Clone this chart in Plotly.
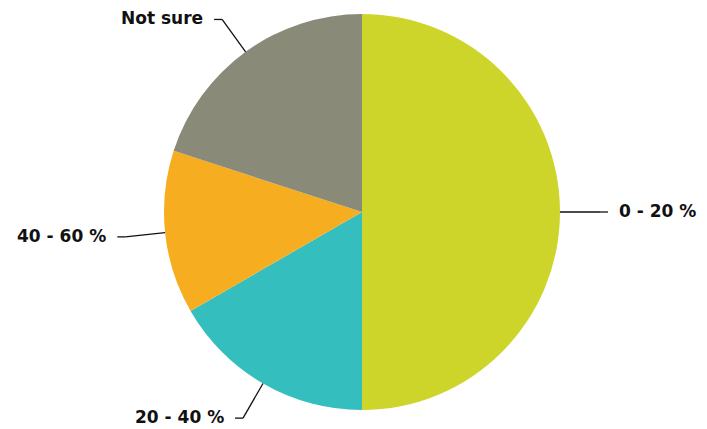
import math
import plotly.graph_objects as go

labels = ["0 - 20 %", "20 - 40 %", "40 - 60 %", "Not sure"]
values = [15, 5, 4, 6]
colors = ["#CED52A", "#35BEBE", "#F6AE20", "#8A8A78"]

W, H = 707, 429
OFF = 8  # page body margin
CX, CY, R = 362 - OFF, 212 - OFF, 198  # pie centre and radius in pixels

fig = go.Figure(go.Pie(
    labels=labels, values=values, sort=False, direction="clockwise", rotation=0,
    marker=dict(colors=colors, line=dict(width=0)),
    textinfo="none", hoverinfo="label+percent", showlegend=False,
    domain=dict(x=[(CX - R) / W, (CX + R) / W], y=[1 - (CY + R) / H, 1 - (CY - R) / H]),
))

def px(x, y):
    return x / W, 1 - y / H

total = sum(values)
cum = 0
shapes, annos = [], []
for lab, v in zip(labels, values):
    mid = (cum + v / 2) / total * 2 * math.pi
    cum += v
    dx, dy = math.sin(mid), -math.cos(mid)
    ex, ey = CX + R * dx, CY + R * dy
    bx, by = CX + (R + 40) * dx, CY + (R + 40) * dy
    side = 1 if dx >= 0 else -1
    hx = bx + side * 8
    for (x0, y0, x1, y1) in [(ex, ey, bx, by), (bx, by, hx, by)]:
        a0, b0 = px(x0, y0)
        a1, b1 = px(x1, y1)
        shapes.append(dict(type="line", xref="paper", yref="paper", x0=a0, y0=b0, x1=a1, y1=b1,
                           line=dict(color="#111111", width=1.3)))
    tx, ty = px(hx + side * 9, by - 1)
    annos.append(dict(xref="paper", yref="paper", x=tx, y=ty, text="<b>%s</b>" % lab,
                      showarrow=False, xanchor="left" if side > 0 else "right", yanchor="middle",
                      font=dict(family="DejaVu Sans", size=17, color="#111111")))

fig.update_layout(width=W, height=H, margin=dict(l=0, r=0, t=0, b=0),
                  paper_bgcolor="white", plot_bgcolor="white",
                  shapes=shapes, annotations=annos)
fig.write_html("out.html")
